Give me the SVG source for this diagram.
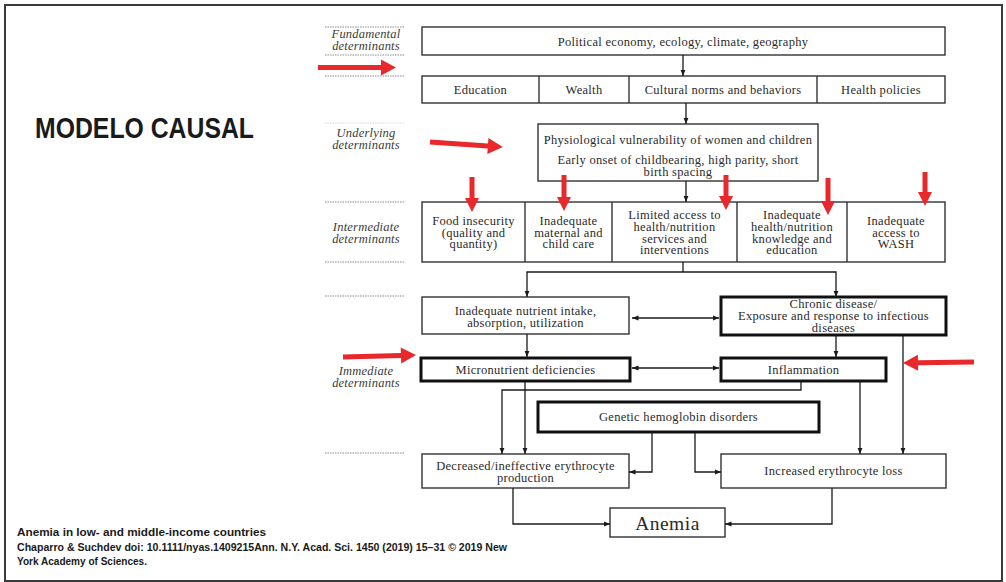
<svg xmlns="http://www.w3.org/2000/svg" width="1006" height="582" viewBox="0 0 1006 582">
<style>
.box{fill:#fff;stroke:#333;stroke-width:1.4}
.thick{fill:#fff;stroke:#111;stroke-width:3}
.t{font-family:"Liberation Serif","Times New Roman",serif;font-size:12.5px;letter-spacing:0.3px;fill:#2a2a2a;text-anchor:middle;dominant-baseline:central}
.big{font-size:19.5px;letter-spacing:0.5px}
.lab{font-family:"Liberation Serif","Times New Roman",serif;font-style:italic;font-size:12.5px;letter-spacing:0.2px;fill:#3a3a3a;text-anchor:middle;dominant-baseline:central}
.dot{stroke:#8a8a8a;stroke-width:1;stroke-dasharray:1.5 1}
.c{fill:none;stroke:#1a1a1a;stroke-width:1.3}
.red{fill:#e8282b}
.sans{font-family:"Liberation Sans",Arial,sans-serif;font-weight:bold;fill:#1a1a1a}
</style>
<defs>
<marker id="ah" viewBox="0 0 10 10" refX="10" refY="5" markerWidth="6.5" markerHeight="6.5" markerUnits="userSpaceOnUse" orient="auto-start-reverse"><path d="M0,1 L10,5 L0,9 z" fill="#1a1a1a"/></marker>
</defs>
<rect x="0" y="0" width="1006" height="582" fill="#fff"/>
<rect x="5" y="5" width="997" height="576" fill="none" stroke="#3a3a3a" stroke-width="2"/>

<g id="title"><text class="sans" x="35" y="138" font-size="29" textLength="219" lengthAdjust="spacingAndGlyphs">MODELO CAUSAL</text></g>
<g id="citation">
<text class="sans" x="17" y="536" font-size="10.5" textLength="249" lengthAdjust="spacingAndGlyphs">Anemia in low- and middle-income countries</text>
<text class="sans" x="17" y="550.5" font-size="10.5" textLength="490" lengthAdjust="spacingAndGlyphs">Chaparro &amp; Suchdev doi: 10.1111/nyas.1409215Ann. N.Y. Acad. Sci. 1450 (2019) 15–31 © 2019 New</text>
<text class="sans" x="17" y="565" font-size="10.5" textLength="130" lengthAdjust="spacingAndGlyphs">York Academy of Sciences.</text>
</g>

<g id="level-labels">
<line class="dot" x1="325" y1="27" x2="405" y2="27"/>
<line class="dot" x1="325" y1="55" x2="405" y2="55"/>
<line class="dot" x1="325" y1="76" x2="405" y2="76"/>
<line class="dot" x1="325" y1="123" x2="405" y2="123" stroke-opacity="0.35"/>
<line class="dot" x1="325" y1="202" x2="405" y2="202"/>
<line class="dot" x1="325" y1="262" x2="405" y2="262"/>
<line class="dot" x1="325" y1="296" x2="405" y2="296"/>
<line class="dot" x1="325" y1="453" x2="405" y2="453"/>
<text class="lab" x="366" y="34">Fundamental</text>
<text class="lab" x="366" y="46">determinants</text>
<text class="lab" x="366" y="133">Underlying</text>
<text class="lab" x="366" y="145">determinants</text>
<text class="lab" x="366" y="227">Intermediate</text>
<text class="lab" x="366" y="239">determinants</text>
<text class="lab" x="366" y="371">Immediate</text>
<text class="lab" x="366" y="383">determinants</text>
</g>

<g id="n-fundamental">
<rect class="box" x="422" y="27" width="523" height="28"/>
<text class="t" x="683" y="41.5">Political economy, ecology, climate, geography</text>
</g>
<g id="n-underlying-row">
<rect class="box" x="422" y="76" width="523" height="27"/>
<line class="box" x1="539" y1="76" x2="539" y2="103"/>
<line class="box" x1="629" y1="76" x2="629" y2="103"/>
<line class="box" x1="817" y1="76" x2="817" y2="103"/>
<text class="t" x="480.5" y="90">Education</text>
<text class="t" x="584" y="90">Wealth</text>
<text class="t" x="723" y="90">Cultural norms and behaviors</text>
<text class="t" x="881" y="90">Health policies</text>
</g>
<g id="n-physiological">
<rect class="box" x="538" y="124" width="280" height="57"/>
<text class="t" x="678" y="139.5">Physiological vulnerability of women and children</text>
<text class="t" x="678" y="160">Early onset of childbearing, high parity, short</text>
<text class="t" x="678" y="172">birth spacing</text>
</g>
<g id="n-intermediate-row">
<rect class="box" x="422" y="202" width="523" height="60"/>
<line class="box" x1="525" y1="202" x2="525" y2="262"/>
<line class="box" x1="612" y1="202" x2="612" y2="262"/>
<line class="box" x1="737" y1="202" x2="737" y2="262"/>
<line class="box" x1="847" y1="202" x2="847" y2="262"/>
<text class="t" x="473.5" y="221">Food insecurity</text>
<text class="t" x="473.5" y="232.5">(quality and</text>
<text class="t" x="473.5" y="244">quantity)</text>
<text class="t" x="568.5" y="221">Inadequate</text>
<text class="t" x="568.5" y="232.5">maternal and</text>
<text class="t" x="568.5" y="244">child care</text>
<text class="t" x="674.5" y="215">Limited access to</text>
<text class="t" x="674.5" y="226.5">health/nutrition</text>
<text class="t" x="674.5" y="238.5">services and</text>
<text class="t" x="674.5" y="250">interventions</text>
<text class="t" x="792" y="215">Inadequate</text>
<text class="t" x="792" y="226.5">health/nutrition</text>
<text class="t" x="792" y="238.5">knowledge and</text>
<text class="t" x="792" y="250">education</text>
<text class="t" x="896" y="221">Inadequate</text>
<text class="t" x="896" y="232.5">access to</text>
<text class="t" x="896" y="244">WASH</text>
</g>
<g id="n-nutrient-intake">
<rect class="box" x="422" y="297" width="207" height="37"/>
<text class="t" x="525.5" y="311">Inadequate nutrient intake,</text>
<text class="t" x="525.5" y="323">absorption, utilization</text>
</g>
<g id="n-chronic">
<rect class="thick" x="721" y="297" width="225" height="38"/>
<text class="t" x="833.5" y="304">Chronic disease/</text>
<text class="t" x="833.5" y="316">Exposure and response to infectious</text>
<text class="t" x="833.5" y="328">diseases</text>
</g>
<g id="n-micronutrient">
<rect class="thick" x="421" y="358" width="209" height="23"/>
<text class="t" x="525.5" y="369.5">Micronutrient deficiencies</text>
</g>
<g id="n-inflammation">
<rect class="thick" x="721" y="358" width="165" height="23"/>
<text class="t" x="803.5" y="369.5">Inflammation</text>
</g>
<g id="n-genetic">
<rect class="thick" x="538" y="402" width="281" height="30"/>
<text class="t" x="678.5" y="417">Genetic hemoglobin disorders</text>
</g>
<g id="n-decreased">
<rect class="box" x="422" y="454" width="207" height="34"/>
<text class="t" x="525.5" y="466">Decreased/ineffective erythrocyte</text>
<text class="t" x="525.5" y="478">production</text>
</g>
<g id="n-increased">
<rect class="box" x="721" y="454" width="225" height="34"/>
<text class="t" x="833.5" y="471">Increased erythrocyte loss</text>
</g>
<g id="n-anemia">
<rect class="box" x="610" y="508" width="115" height="29"/>
<text class="t big" x="667.5" y="523">Anemia</text>
</g>

<g id="connectors">
<line class="c" x1="683" y1="55" x2="683" y2="76" marker-end="url(#ah)"/>
<line class="c" x1="686" y1="103" x2="686" y2="124" marker-end="url(#ah)"/>
<line class="c" x1="686" y1="181" x2="686" y2="202" marker-end="url(#ah)"/>
<line class="c" x1="683" y1="262" x2="683" y2="272"/>
<polyline class="c" points="683,272 527,272 527,297" marker-end="url(#ah)"/>
<polyline class="c" points="683,272 836,272 836,297" marker-end="url(#ah)"/>
<line class="c" x1="632" y1="318" x2="719" y2="318" marker-start="url(#ah)" marker-end="url(#ah)"/>
<line class="c" x1="527" y1="334" x2="527" y2="357" marker-end="url(#ah)"/>
<line class="c" x1="836" y1="335" x2="836" y2="357" marker-end="url(#ah)"/>
<line class="c" x1="632" y1="368" x2="719" y2="368" marker-start="url(#ah)" marker-end="url(#ah)"/>
<polyline class="c" points="801,381 801,390 502,390 502,454" marker-end="url(#ah)"/>
<line class="c" x1="525" y1="381" x2="525" y2="454" marker-end="url(#ah)"/>
<line class="c" x1="860" y1="381" x2="860" y2="454" marker-end="url(#ah)"/>
<line class="c" x1="903" y1="335" x2="903" y2="454" marker-end="url(#ah)"/>
<polyline class="c" points="652,432 652,472 629,472" marker-end="url(#ah)"/>
<polyline class="c" points="695,432 695,472 721,472" marker-end="url(#ah)"/>
<polyline class="c" points="513,488 513,524 610,524" marker-end="url(#ah)"/>
<polyline class="c" points="832,488 832,524 725,524" marker-end="url(#ah)"/>
</g>

<g id="annotations">
<polygon class="red" transform="translate(318,67.5)" points="0,-2.5 63,-2.5 63,-8 78,0 63,8 63,2.5 0,2.5"/>
<polygon class="red" transform="translate(430,142) rotate(3.9)" points="0,-2.5 58,-2.5 58,-8 73,0 58,8 58,2.5 0,2.5"/>
<polygon class="red" transform="translate(472,177) rotate(90)" points="0,-2.5 21,-2.5 21,-7 35,0 21,7 21,2.5 0,2.5"/>
<polygon class="red" transform="translate(564,175) rotate(90)" points="0,-2.5 22,-2.5 22,-7 36,0 22,7 22,2.5 0,2.5"/>
<polygon class="red" transform="translate(726,175) rotate(90)" points="0,-2.5 21,-2.5 21,-7 35,0 21,7 21,2.5 0,2.5"/>
<polygon class="red" transform="translate(828,178) rotate(90)" points="0,-2.5 23,-2.5 23,-7 37,0 23,7 23,2.5 0,2.5"/>
<polygon class="red" transform="translate(925,172) rotate(90)" points="0,-2.5 20,-2.5 20,-7 34,0 20,7 20,2.5 0,2.5"/>
<polygon class="red" transform="translate(343,357) rotate(-1.6)" points="0,-2.5 58,-2.5 58,-8 73,0 58,8 58,2.5 0,2.5"/>
<polygon class="red" transform="translate(974,362) rotate(179.2)" points="0,-2.5 56,-2.5 56,-8 71,0 56,8 56,2.5 0,2.5"/>
</g>
</svg>
